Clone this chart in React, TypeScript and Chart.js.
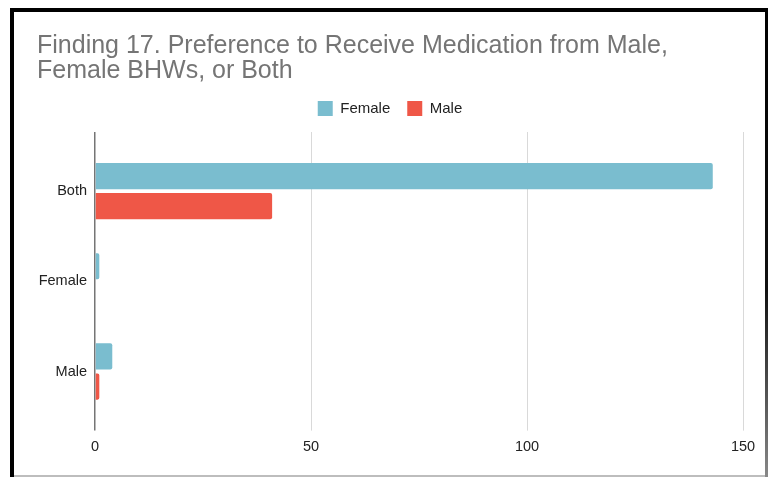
import React, { useEffect, useRef } from 'react';
import { Chart, registerables } from 'chart.js';

Chart.register(...registerables);

// Survey responses: who respondents prefer to receive medication from
const categories = ['Both', 'Female', 'Male'];
const seriesNames = ['Female', 'Male'];
const femaleCounts = [143, 1, 4];
const maleCounts = [41, 0, 1];
const titleLines = [
  'Finding 17. Preference to Receive Medication from Male,',
  'Female BHWs, or Both',
];
const axisMax = 150;
const axisStep = 50;

const FONT = "'Liberation Sans', Arial, Helvetica, sans-serif";
const FEMALE_COLOR = '#7abdcf';
const MALE_COLOR = '#ef5747';
const GRID_COLOR = '#d9d9d9';
const ZERO_COLOR = '#757575';

const lineColor = (ctx: any) => (ctx.tick && ctx.tick.value === 0 ? ZERO_COLOR : GRID_COLOR);
const lineWidth = (ctx: any) => (ctx.tick && ctx.tick.value === 0 ? 1.5 : 1);

export default function App() {
  const canvasRef = useRef<HTMLCanvasElement | null>(null);

  useEffect(() => {
    const canvas = canvasRef.current;
    if (!canvas) return;
    const chart = new Chart(canvas, {
      type: 'bar',
      data: {
        labels: categories,
        datasets: [
          {
            label: seriesNames[0],
            data: femaleCounts,
            backgroundColor: FEMALE_COLOR,
            borderWidth: 0,
            borderRadius: 2,
            categoryPercentage: 0.667,
            barPercentage: 0.87,
            xAxisID: 'x',
          },
          {
            label: seriesNames[1],
            data: maleCounts,
            backgroundColor: MALE_COLOR,
            borderWidth: 0,
            borderRadius: 2,
            categoryPercentage: 0.667,
            barPercentage: 0.87,
            xAxisID: 'x',
          },
        ],
      },
      options: {
        indexAxis: 'y',
        responsive: false,
        animation: false,
        layout: { padding: { left: 23, right: 22, top: 0, bottom: 11 } },
        scales: {
          x: {
            type: 'linear',
            position: 'bottom',
            min: 0,
            max: axisMax,
            ticks: {
              stepSize: axisStep,
              color: '#222222',
              padding: 8,
              font: { family: FONT, size: 14.5 },
            },
            grid: {
              color: lineColor,
              tickColor: lineColor,
              lineWidth: lineWidth,
              tickWidth: lineWidth,
              tickLength: 14,
              drawTicks: true,
            },
            border: { display: false },
          },
          xTop: {
            type: 'linear',
            position: 'top',
            min: 0,
            max: axisMax,
            ticks: { display: false, stepSize: axisStep },
            grid: {
              drawOnChartArea: false,
              color: lineColor,
              tickColor: lineColor,
              lineWidth: lineWidth,
              tickWidth: lineWidth,
              tickLength: 14,
              drawTicks: true,
            },
            border: { display: false },
            afterFit: (scale: any) => {
              scale.height = 20;
            },
          },
          y: {
            type: 'category',
            grid: { display: false },
            border: { display: false },
            ticks: {
              color: '#222222',
              padding: 0,
              font: { family: FONT, size: 14.5 },
            },
            afterFit: (scale: any) => {
              scale.width = 58;
            },
          },
        },
        plugins: {
          title: {
            display: true,
            text: titleLines,
            align: 'start',
            color: '#757575',
            font: { family: FONT, size: 25, weight: 'normal', lineHeight: 1 },
            padding: { top: 22, bottom: 0 },
          },
          legend: {
            display: true,
            position: 'top',
            align: 'center',
            labels: {
              boxWidth: 15,
              boxHeight: 15,
              padding: 17,
              color: '#222222',
              font: { family: FONT, size: 15 },
            },
          },
          tooltip: { enabled: false },
        },
      },
    } as any);
    return () => chart.destroy();
  }, []);

  return (
    <div
      style={{
        position: 'fixed',
        left: 0,
        top: 0,
        width: 768,
        height: 477,
        background: '#ffffff',
        overflow: 'hidden',
      }}
    >
      <canvas
        ref={canvasRef}
        width={751}
        height={463}
        style={{ position: 'absolute', left: 14, top: 12, width: 751, height: 463 }}
      />
      {/* frame around the chart */}
      <div style={{ position: 'absolute', left: 10, top: 8, width: 758, height: 4, background: '#000' }} />
      <div style={{ position: 'absolute', left: 10, top: 8, width: 4, height: 469, background: '#000' }} />
      <div
        style={{
          position: 'absolute',
          left: 765,
          top: 8,
          width: 3,
          height: 469,
          background: 'linear-gradient(#000000, #111111 60%, #888888)',
        }}
      />
      <div style={{ position: 'absolute', left: 14, top: 475, width: 751, height: 2, background: '#bdbdbd' }} />
    </div>
  );
}
